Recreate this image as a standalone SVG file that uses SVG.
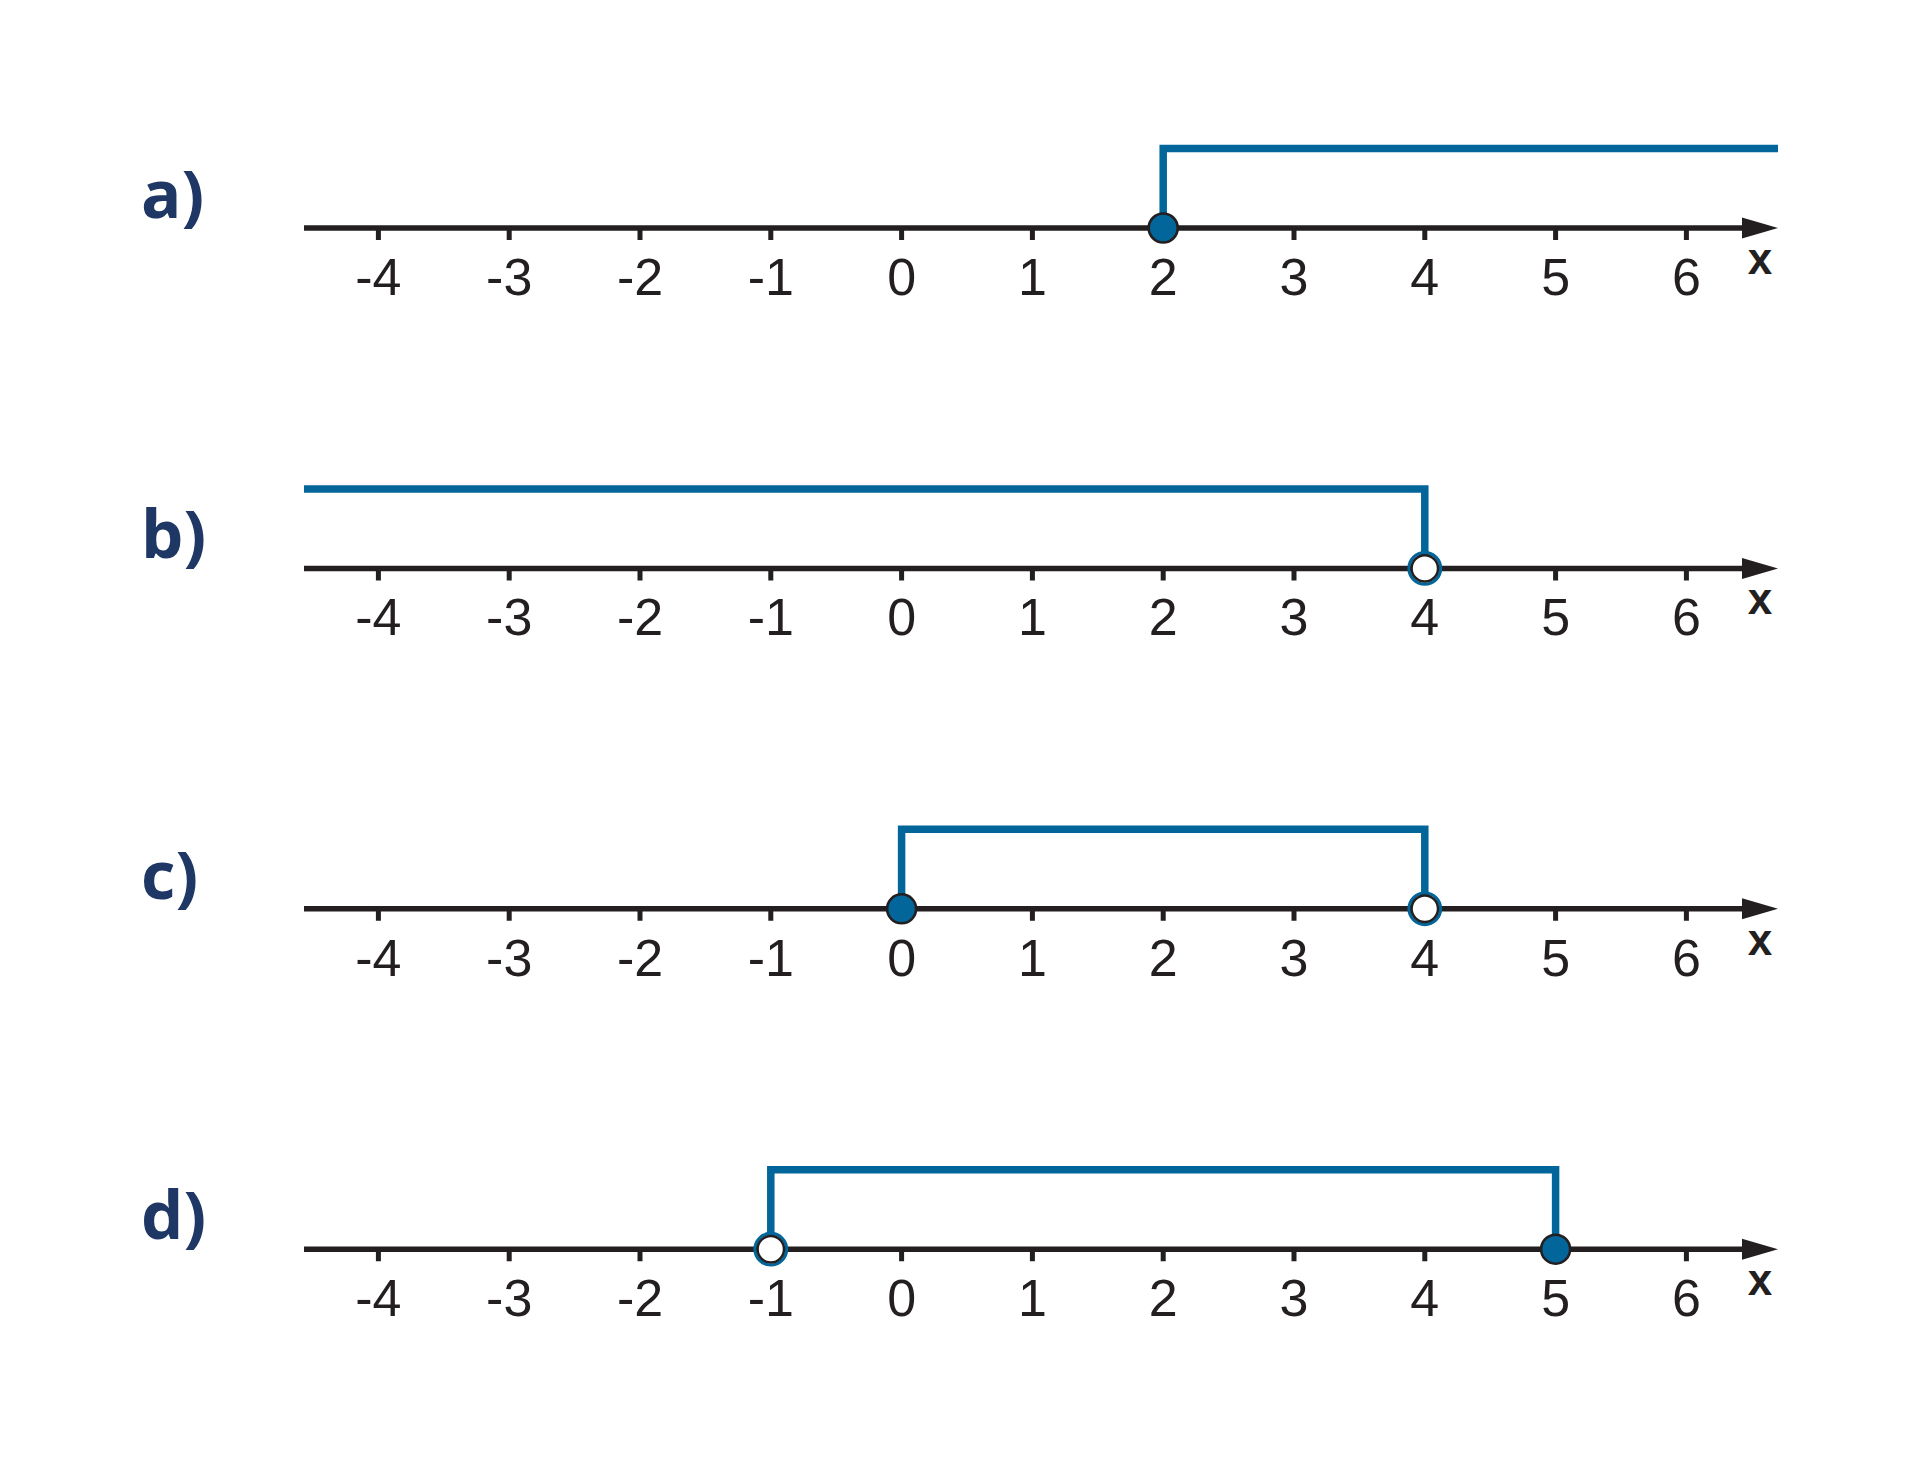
<svg xmlns="http://www.w3.org/2000/svg" width="1920" height="1481" viewBox="0 0 1920 1481">
<defs>
<style>
.axis{stroke:#231f20;stroke-width:5.5;fill:none}
.tick{stroke:#231f20;stroke-width:5;fill:none}
.head{fill:#231f20}
.num{font-family:"Liberation Sans",Arial,sans-serif;font-size:52px;fill:#231f20;text-anchor:middle}
.xl{font-family:"Liberation Sans",Arial,sans-serif;font-size:44px;font-weight:bold;fill:#231f20;text-anchor:middle}
.lab{font-family:"Open Sans","Noto Sans",sans-serif;font-size:67px;font-weight:bold;fill:#1e3764}
.set{stroke:#02669b;stroke-width:7.5;fill:none;stroke-linejoin:miter;stroke-linecap:butt}
.fill{fill:#02669b;stroke:#231f20;stroke-width:2.6}
.ringb{fill:none;stroke:#02669b;stroke-width:3.2}
.ringk{fill:#ffffff;stroke:#231f20;stroke-width:2.5}
</style>
<g id="axisTemplate">
<line class="axis" x1="304" y1="0" x2="1745" y2="0"/>
<polygon class="head" points="1742,-10.5 1778,0 1742,10.5"/>
<path class="tick" d="M378.4,0V12M509.2,0V12M640,0V12M770.8,0V12M901.6,0V12M1032.4,0V12M1163.2,0V12M1294,0V12M1424.8,0V12M1555.6,0V12M1686.4,0V12"/>
</g>
</defs>

<g id="panel-a" transform="translate(0,228)">
<text class="lab" x="141" y="-10">a)</text>
<use href="#axisTemplate"/>
<g class="labels">
<text class="num" x="378.4" y="67">-4</text><text class="num" x="509.2" y="67">-3</text><text class="num" x="640" y="67">-2</text><text class="num" x="770.8" y="67">-1</text><text class="num" x="901.6" y="67">0</text><text class="num" x="1032.4" y="67">1</text><text class="num" x="1163.2" y="67">2</text><text class="num" x="1294" y="67">3</text><text class="num" x="1424.8" y="67">4</text><text class="num" x="1555.6" y="67">5</text><text class="num" x="1686.4" y="67">6</text>
<text class="xl" x="1760" y="46">x</text>
</g>
<g id="connectors-a"><path class="set" d="M1163.2,-12V-79.5H1778"/></g>
<g id="point-a-2"><circle class="fill" cx="1163.2" cy="0" r="14.5"/></g>
</g>

<g id="panel-b" transform="translate(0,568.4)">
<text class="lab" x="141" y="-10">b)</text>
<use href="#axisTemplate"/>
<g class="labels">
<text class="num" x="378.4" y="67">-4</text><text class="num" x="509.2" y="67">-3</text><text class="num" x="640" y="67">-2</text><text class="num" x="770.8" y="67">-1</text><text class="num" x="901.6" y="67">0</text><text class="num" x="1032.4" y="67">1</text><text class="num" x="1163.2" y="67">2</text><text class="num" x="1294" y="67">3</text><text class="num" x="1424.8" y="67">4</text><text class="num" x="1555.6" y="67">5</text><text class="num" x="1686.4" y="67">6</text>
<text class="xl" x="1760" y="46">x</text>
</g>
<g id="connectors-b"><path class="set" d="M304,-79.5H1424.8V-12"/></g>
<g id="point-b-4"><circle class="ringb" cx="1424.8" cy="0" r="15.8"/><circle class="ringk" cx="1424.8" cy="0" r="13.2"/></g>
</g>

<g id="panel-c" transform="translate(0,908.8)">
<text class="lab" x="141" y="-10">c)</text>
<use href="#axisTemplate"/>
<g class="labels">
<text class="num" x="378.4" y="67">-4</text><text class="num" x="509.2" y="67">-3</text><text class="num" x="640" y="67">-2</text><text class="num" x="770.8" y="67">-1</text><text class="num" x="901.6" y="67">0</text><text class="num" x="1032.4" y="67">1</text><text class="num" x="1163.2" y="67">2</text><text class="num" x="1294" y="67">3</text><text class="num" x="1424.8" y="67">4</text><text class="num" x="1555.6" y="67">5</text><text class="num" x="1686.4" y="67">6</text>
<text class="xl" x="1760" y="46">x</text>
</g>
<g id="connectors-c"><path class="set" d="M901.6,-12V-79.5H1424.8V-12"/></g>
<g id="point-c-0"><circle class="fill" cx="901.6" cy="0" r="14.5"/></g>
<g id="point-c-4"><circle class="ringb" cx="1424.8" cy="0" r="15.8"/><circle class="ringk" cx="1424.8" cy="0" r="13.2"/></g>
</g>

<g id="panel-d" transform="translate(0,1249.2)">
<text class="lab" x="141" y="-10">d)</text>
<use href="#axisTemplate"/>
<g class="labels">
<text class="num" x="378.4" y="67">-4</text><text class="num" x="509.2" y="67">-3</text><text class="num" x="640" y="67">-2</text><text class="num" x="770.8" y="67">-1</text><text class="num" x="901.6" y="67">0</text><text class="num" x="1032.4" y="67">1</text><text class="num" x="1163.2" y="67">2</text><text class="num" x="1294" y="67">3</text><text class="num" x="1424.8" y="67">4</text><text class="num" x="1555.6" y="67">5</text><text class="num" x="1686.4" y="67">6</text>
<text class="xl" x="1760" y="46">x</text>
</g>
<g id="connectors-d"><path class="set" d="M770.8,-12V-79.5H1555.6V-12"/></g>
<g id="point-d-m1"><circle class="ringb" cx="770.8" cy="0" r="15.8"/><circle class="ringk" cx="770.8" cy="0" r="13.2"/></g>
<g id="point-d-5"><circle class="fill" cx="1555.6" cy="0" r="14.5"/></g>
</g>
</svg>
